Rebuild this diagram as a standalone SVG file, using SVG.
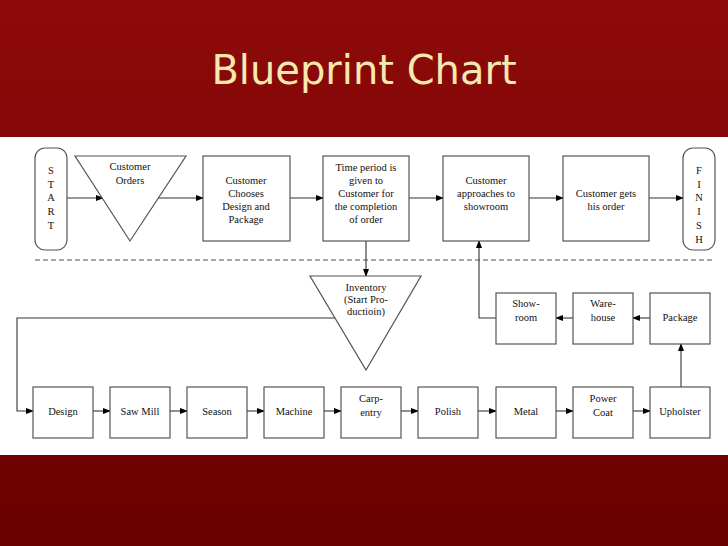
<svg xmlns="http://www.w3.org/2000/svg" width="728" height="546" viewBox="0 0 728 546">
<defs>
<linearGradient id="bg" x1="0" y1="0" x2="0" y2="1"><stop offset="0" stop-color="#8e0a0a"/><stop offset="1" stop-color="#6a0000"/></linearGradient>
<marker id="ar" markerWidth="8" markerHeight="6" refX="7" refY="3" orient="auto" markerUnits="userSpaceOnUse"><path d="M0,0 L8,3 L0,6 Z" fill="#000"/></marker>
</defs>
<style>
.s{fill:#fff;stroke:#555;stroke-width:1.2}
.t{font-family:"Liberation Serif",serif;font-size:10.5px;fill:#111;text-anchor:middle}
.c{fill:none;stroke:#333;stroke-width:1.1}
.a{marker-end:url(#ar)}
</style>
<rect width="728" height="546" fill="url(#bg)"/>
<text x="364" y="84" font-family="DejaVu Sans, sans-serif" font-size="40" fill="#f5e9b0" text-anchor="middle" style="text-shadow:none">Blueprint Chart</text>
<rect x="0" y="137" width="728" height="318" fill="#fff"/>
<g id="connectors">
<line class="c a" x1="67" y1="198" x2="103" y2="198"/>
<line class="c a" x1="158" y1="198" x2="203" y2="198"/>
<line class="c a" x1="290" y1="198" x2="323" y2="198"/>
<line class="c a" x1="409" y1="198" x2="443" y2="198"/>
<line class="c a" x1="529" y1="198" x2="563" y2="198"/>
<line class="c a" x1="649" y1="198" x2="683" y2="198"/>
<line x1="35" y1="260" x2="715" y2="260" stroke="#555" stroke-width="1.2" stroke-dasharray="5,3"/>
<line class="c a" x1="366" y1="241" x2="366" y2="276"/>
<polyline class="c a" points="335,318 17,318 17,411 33,411"/>
<line class="c a" x1="93" y1="411" x2="110" y2="411"/>
<line class="c a" x1="170" y1="411" x2="187" y2="411"/>
<line class="c a" x1="247" y1="411" x2="264" y2="411"/>
<line class="c a" x1="324" y1="411" x2="341" y2="411"/>
<line class="c a" x1="401" y1="411" x2="418" y2="411"/>
<line class="c a" x1="478" y1="411" x2="496" y2="411"/>
<line class="c a" x1="556" y1="411" x2="573" y2="411"/>
<line class="c a" x1="633" y1="411" x2="650" y2="411"/>
<line class="c a" x1="681" y1="387" x2="681" y2="344"/>
<line class="c a" x1="650" y1="318" x2="633" y2="318"/>
<line class="c a" x1="573" y1="318" x2="556" y2="318"/>
<polyline class="c a" points="496,318 479,318 479,241"/>
</g>
<g id="start"><rect class="s" x="35" y="148" width="32" height="102" rx="10"/><text class="t"><tspan x="51" y="174">S</tspan><tspan x="51" y="188">T</tspan><tspan x="51" y="201">A</tspan><tspan x="51" y="215">R</tspan><tspan x="51" y="229">T</tspan></text></g>
<g id="orders"><polygon class="s" points="75,156 186,156 130,241"/><text class="t"><tspan x="130" y="170">Customer</tspan><tspan x="130" y="184">Orders</tspan></text></g>
<g id="chooses"><rect class="s" x="203" y="156" width="87" height="85"/><text class="t"><tspan x="246" y="184">Customer</tspan><tspan x="246" y="197">Chooses</tspan><tspan x="246" y="210">Design and</tspan><tspan x="246" y="223">Package</tspan></text></g>
<g id="time"><rect class="s" x="323" y="156" width="86" height="85"/><text class="t"><tspan x="366" y="171">Time period is</tspan><tspan x="366" y="184">given to</tspan><tspan x="366" y="197">Customer for</tspan><tspan x="366" y="210">the completion</tspan><tspan x="366" y="223">of order</tspan></text></g>
<g id="approaches"><rect class="s" x="443" y="156" width="86" height="85"/><text class="t"><tspan x="486" y="184">Customer</tspan><tspan x="486" y="197">approaches to</tspan><tspan x="486" y="210">showroom</tspan></text></g>
<g id="gets"><rect class="s" x="563" y="156" width="86" height="85"/><text class="t"><tspan x="606" y="197">Customer gets</tspan><tspan x="606" y="210">his order</tspan></text></g>
<g id="finish"><rect class="s" x="683" y="148" width="32" height="102" rx="10"/><text class="t"><tspan x="699" y="174">F</tspan><tspan x="699" y="188">I</tspan><tspan x="699" y="201">N</tspan><tspan x="699" y="215">I</tspan><tspan x="699" y="229">S</tspan><tspan x="699" y="243">H</tspan></text></g>
<g id="inventory"><polygon class="s" points="310,276 421,276 366,370"/><text class="t"><tspan x="366" y="291">Inventory</tspan><tspan x="366" y="303">(Start Pro-</tspan><tspan x="366" y="315">ductioin)</tspan></text></g>
<g id="design"><rect class="s" x="33" y="387" width="60" height="51"/><text class="t" x="63" y="415">Design</text></g>
<g id="sawmill"><rect class="s" x="110" y="387" width="60" height="51"/><text class="t" x="140" y="415">Saw Mill</text></g>
<g id="season"><rect class="s" x="187" y="387" width="60" height="51"/><text class="t" x="217" y="415">Season</text></g>
<g id="machine"><rect class="s" x="264" y="387" width="60" height="51"/><text class="t" x="294" y="415">Machine</text></g>
<g id="carpentry"><rect class="s" x="341" y="387" width="60" height="51"/><text class="t"><tspan x="371" y="402">Carp-</tspan><tspan x="371" y="416">entry</tspan></text></g>
<g id="polish"><rect class="s" x="418" y="387" width="60" height="51"/><text class="t" x="448" y="415">Polish</text></g>
<g id="metal"><rect class="s" x="496" y="387" width="60" height="51"/><text class="t" x="526" y="415">Metal</text></g>
<g id="powercoat"><rect class="s" x="573" y="387" width="60" height="51"/><text class="t"><tspan x="603" y="402">Power</tspan><tspan x="603" y="416">Coat</tspan></text></g>
<g id="upholster"><rect class="s" x="650" y="387" width="60" height="51"/><text class="t" x="680" y="415">Upholster</text></g>
<g id="showroom"><rect class="s" x="496" y="293" width="60" height="51"/><text class="t"><tspan x="526" y="307">Show-</tspan><tspan x="526" y="321">room</tspan></text></g>
<g id="warehouse"><rect class="s" x="573" y="293" width="60" height="51"/><text class="t"><tspan x="603" y="307">Ware-</tspan><tspan x="603" y="321">house</tspan></text></g>
<g id="package"><rect class="s" x="650" y="293" width="60" height="51"/><text class="t" x="680" y="321">Package</text></g>
</svg>
